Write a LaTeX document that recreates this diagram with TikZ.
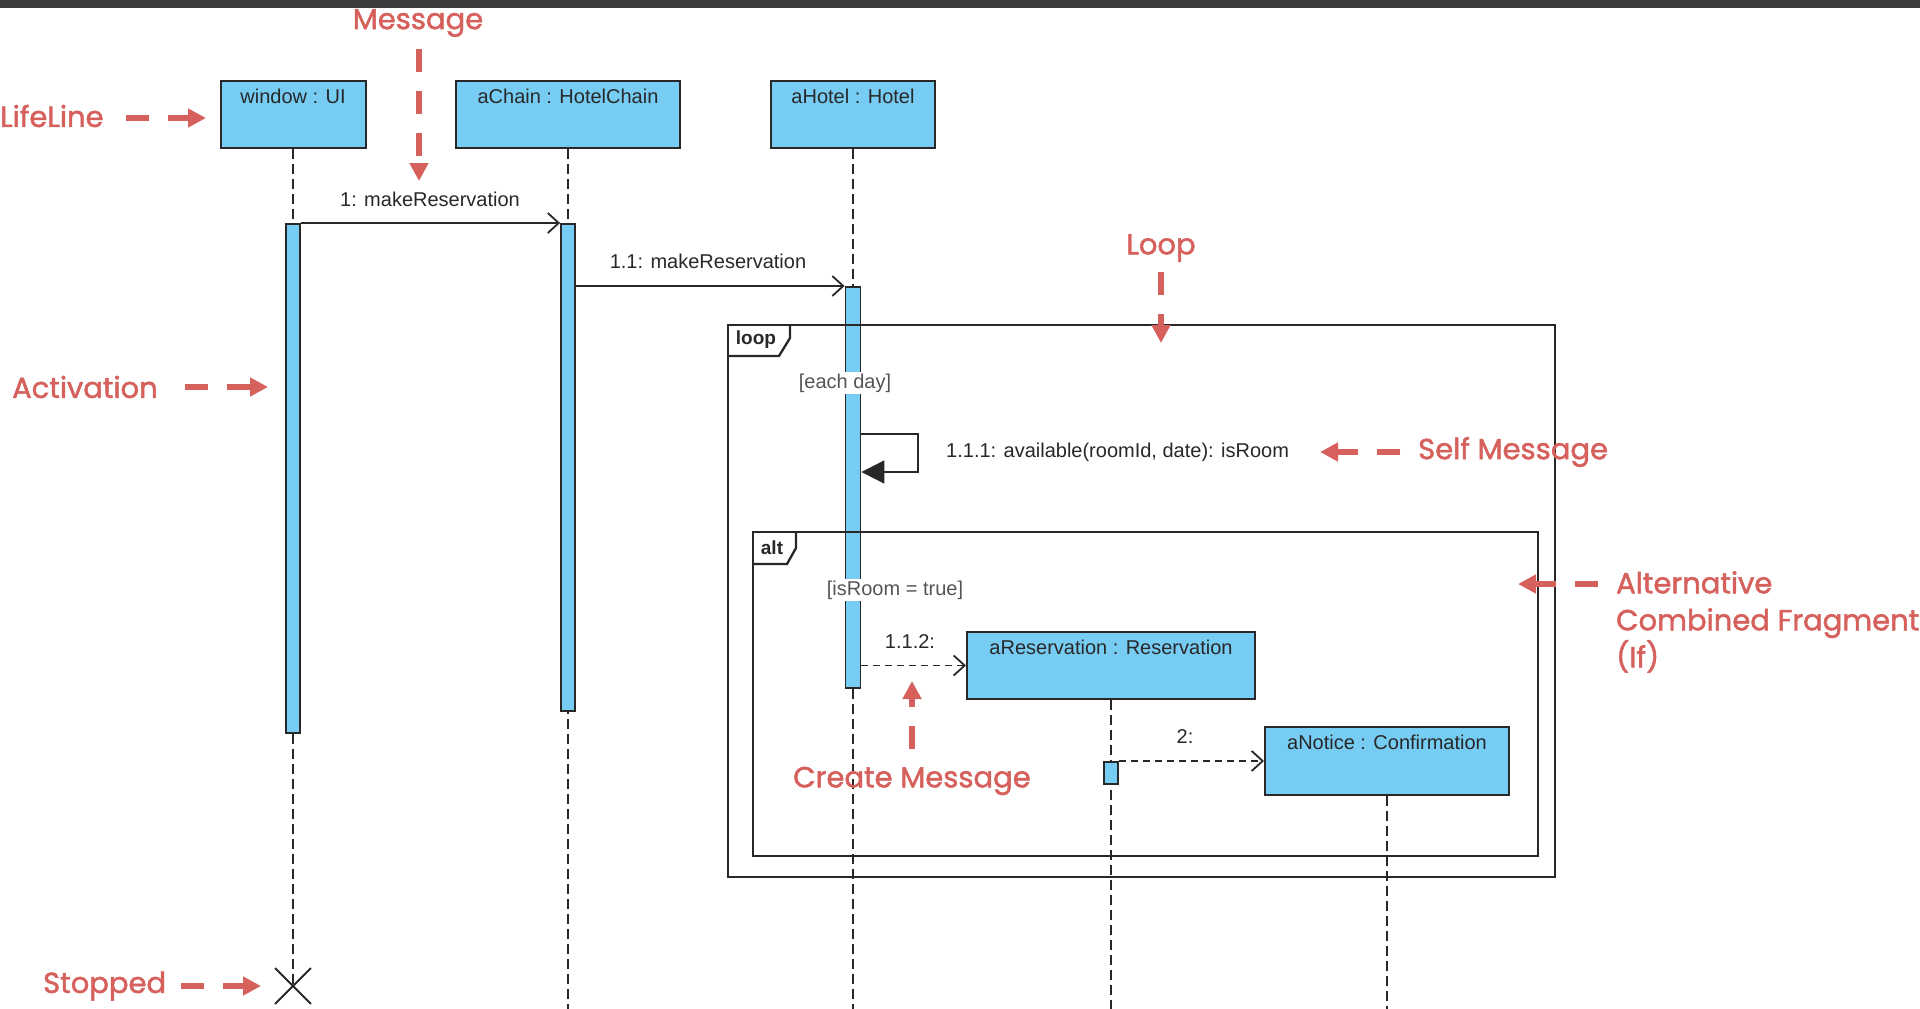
\documentclass[tikz,border=0pt]{standalone}
\usepackage{fontspec}
\setmainfont{Liberation Sans}
\newfontfamily\annfont[FakeBold=1.6]{Poppins}
\usetikzlibrary{arrows.meta,shapes.misc}
\definecolor{blu}{RGB}{118,204,242}
\definecolor{ink}{RGB}{40,40,40}
\definecolor{annred}{RGB}{214,96,92}
\definecolor{topbar}{RGB}{60,60,60}
\definecolor{guard}{RGB}{85,85,85}
\begin{document}
\begin{tikzpicture}[x=1pt,y=-1pt,
  head/.style={draw=ink, fill=blu, line width=2pt, inner sep=0pt},
  headtext/.style={font=\fontsize{20}{24}\selectfont, text=ink, inner sep=0pt},
  act/.style={draw=ink, fill=blu, line width=1.8pt, minimum width=14pt, inner sep=0pt},
  lifeline/.style={draw=ink, line width=1.5pt, dash pattern=on 10pt off 5pt},
  msg/.style={draw=ink, line width=1.8pt, -{Straight Barb[length=11pt,width=20pt,line width=1.8pt]}},
  cmsg/.style={msg, dash pattern=on 7pt off 5pt},
  selfmsg/.style={draw=ink, line width=1.8pt, -{Triangle[length=23pt,width=23pt]}},
  mlabel/.style={font=\fontsize{20}{24}\selectfont, text=ink, inner sep=1pt},
  guardlbl/.style={font=\fontsize{20}{24}\selectfont, text=guard, fill=white, inner sep=2pt},
  frame/.style={draw=ink, line width=2.3pt},
  tabtext/.style={font=\bfseries\fontsize{19}{22}\selectfont, text=ink, inner sep=0pt},
  ann/.style={font=\annfont\fontsize{29}{37}\selectfont, text=annred, inner sep=0pt},
  annarrow/.style={draw=annred, line width=5.5pt, dash pattern=on 23pt off 19pt, -{Triangle[length=18pt,width=18pt]}},
]
% canvas
\fill[white] (0,0) rectangle (1920,1009);
\useasboundingbox (0,0) rectangle (1920,1009);
\fill[topbar] (0,0) rectangle (1920,8);

% lifeline heads
\node[head, minimum width=145pt, minimum height=67pt] (win) at (293,114.5) {};
\node[head, minimum width=224pt, minimum height=67pt] (chain) at (568,114.5) {};
\node[head, minimum width=164pt, minimum height=67pt] (hotel) at (853,114.5) {};
\node[head, minimum width=288pt, minimum height=67pt] (res) at (1111,665.5) {};
\node[head, minimum width=244pt, minimum height=68pt] (note) at (1387,761) {};

% stop mark and lifeline ends
\node[cross out, draw=ink, line width=1.8pt, minimum size=34pt, inner sep=0pt] (stop) at (293,986) {};
\coordinate (bot) at (0,1009);

% lifelines
\draw[lifeline] (win.south) -- (stop.center);
\draw[lifeline] (chain.south) -- (chain.south |- bot);
\draw[lifeline] (hotel.south) -- (hotel.south |- bot);
\draw[lifeline] (res.south) -- (res.south |- bot);
\draw[lifeline] (note.south) -- (note.south |- bot);

% head texts
\node[headtext] (wintxt) at ([yshift=-16pt]win.north) {window : UI};
\node[headtext] (chaintxt) at ([yshift=-16pt]chain.north) {aChain : HotelChain};
\node[headtext] (hoteltxt) at ([yshift=-16pt]hotel.north) {aHotel : Hotel};
\node[headtext] (restxt) at ([yshift=-16pt]res.north) {aReservation : Reservation};
\node[headtext] (notetxt) at ([yshift=-16pt]note.north) {aNotice : Confirmation};

% activations
\node[act, anchor=north, minimum height=509pt] (wact) at (293,223) {};
\node[act, anchor=north, minimum height=487pt] (cact) at (568,223) {};
\node[act, anchor=north, minimum height=401pt, minimum width=15pt] (hact) at (853,286) {};
\node[act, anchor=north, minimum height=22pt] (ract) at (1111,761) {};

% combined fragments
\node[frame, anchor=north west, minimum width=827pt, minimum height=552pt, inner sep=0pt] (loopf) at (727,324) {};
\draw[frame] (727,356) -- (779,356) -- (790,338) -- (790,324);
\node[tabtext] (looptxt) at (756,340) {loop};
\node[guardlbl] (g1) at (845,383) {[each day]};

\node[frame, anchor=north west, minimum width=785pt, minimum height=324pt, inner sep=0pt] (altf) at (752,531) {};
\draw[frame] (752,564) -- (787,564) -- (796,548) -- (796,531);
\node[tabtext] (alttxt) at (772,548) {alt};
\node[guardlbl] (g2) at (895,590) {[isRoom = true]};

% messages
\draw[msg] (wact.north east) -- (cact.north west);
\node[mlabel] (m1lbl) at (430,199) {1: makeReservation};
\draw[msg] (hact.north west -| cact.east) -- (hact.north west);
\node[mlabel] (m2lbl) at (708,261) {1.1: makeReservation};

\coordinate (sm1) at (918,434);
\coordinate (sm2) at (918,472);
\draw[selfmsg] (hact.east |- sm1) -- (sm1) -- (sm2) -- (hact.east |- sm2);
\node[mlabel, anchor=west] (smlbl) at (945,452) {1.1.1: available(roomId, date): isRoom};

\draw[cmsg] (hact.east |- res.west) -- (res.west);
\node[mlabel] (m3lbl) at (910,642) {1.1.2:};
\draw[cmsg] (ract.north east) -- (ract.north east -| note.west);
\node[mlabel] (m4lbl) at (1185,737) {2:};

% annotations
\node[ann] (annMsg) at (418,23) {Message};
\coordinate (amsgA) at (419,49); \coordinate (amsgB) at (419,181);
\draw[annarrow] (amsgA) -- (amsgB);

\node[ann, anchor=west] (annLife) at (0,116) {LifeLine};
\coordinate (alifeA) at (126,118); \coordinate (alifeB) at (206,118);
\draw[annarrow] (alifeA) -- (alifeB);

\node[ann, anchor=west] (annAct) at (12,387) {Activation};
\coordinate (aactA) at (185,387); \coordinate (aactB) at (268,387);
\draw[annarrow] (aactA) -- (aactB);

\node[ann, anchor=west] (annStop) at (43,986) {Stopped};
\coordinate (astopA) at (181,986); \coordinate (astopB) at (261,986);
\draw[annarrow] (astopA) -- (astopB);

\node[ann] (annLoop) at (1161,248) {Loop};
\coordinate (aloopA) at (1161,272); \coordinate (aloopB) at (1161,343);
\draw[annarrow] (aloopA) -- (aloopB);

\node[ann, anchor=west] (annSelf) at (1418,452) {Self Message};
\coordinate (aselfA) at (1400,452); \coordinate (aselfB) at (1320,452);
\draw[annarrow] (aselfA) -- (aselfB);

\node[ann, anchor=north west, align=left] (annAlt) at (1616,571) {Alternative\\Combined Fragment\\(If)};
\coordinate (aaltA) at (1598,584); \coordinate (aaltB) at (1518,584);
\draw[annarrow] (aaltA) -- (aaltB);

\node[ann] (annCreate) at (912,781) {Create Message};
\coordinate (acrA) at (912,749); \coordinate (acrB) at (912,681);
\draw[annarrow] (acrA) -- (acrB);
\end{tikzpicture}
\end{document}
